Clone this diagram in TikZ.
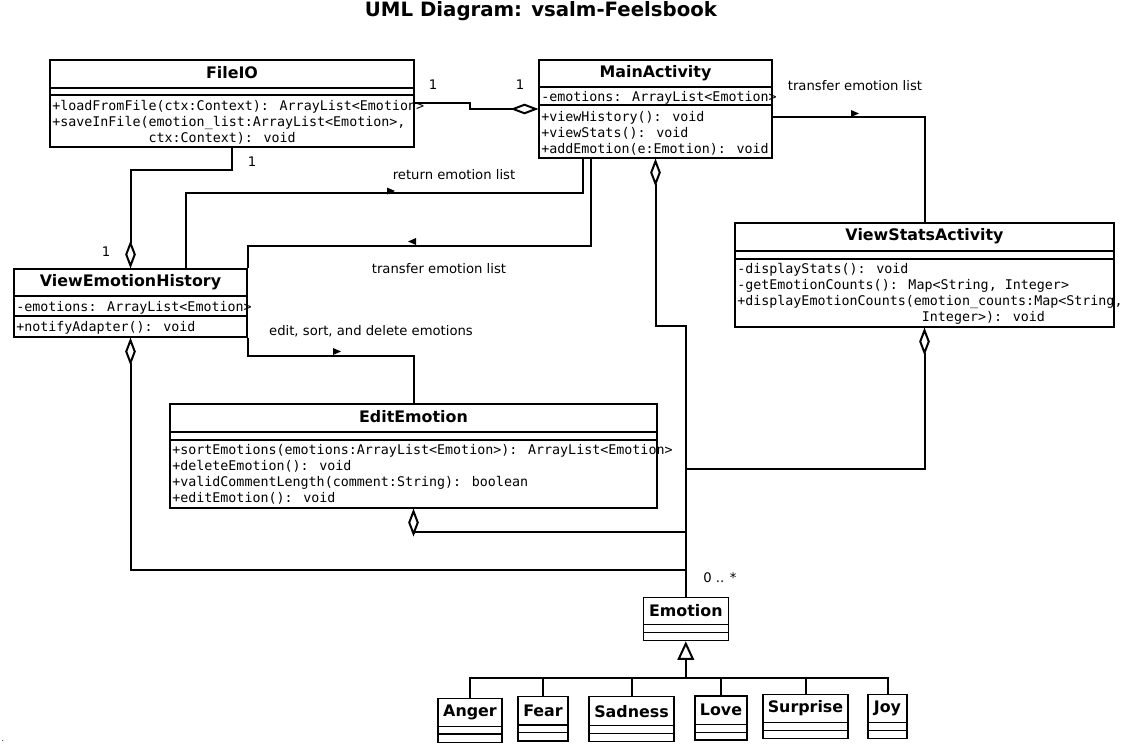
\documentclass[tikz,border=0pt]{standalone}
\usepackage{fontspec}
\setmainfont{DejaVu Sans}
\newfontfamily\monof{DejaVu Sans Mono}
\usetikzlibrary{arrows.meta,fit,calc}
\begin{document}
\begin{tikzpicture}[x=0.75pt,y=-0.75pt,
  cls/.style={draw, line width=0.8pt, inner sep=0pt, fit={#1}},
  sepline/.style={line width=0.8pt},
  ttl/.style={font=\bfseries\fontsize{11.9}{14}\selectfont, inner sep=0pt},
  mem/.style={font=\monof\fontsize{10}{12}\selectfont, anchor=west, inner sep=0pt, yshift=-1.3pt},
  lbl/.style={font=\fontsize{9.9}{12}\selectfont, inner sep=0pt},
  conn/.style={line width=1.5pt},
  agg/.style={conn, -{Diamond[open,length=21pt,width=8pt]}},
  gen/.style={conn, -{Triangle[open,length=14pt,width=12.5pt]}},
  dirarrow/.style={fill=black}
]
\useasboundingbox (0,0) rectangle (1143,749);

% title
\node[font=\bfseries\fontsize{14.8}{17}\selectfont, inner sep=0pt] (title) at (541,11) {UML Diagram: vsalm-Feelsbook};

% FileIO
\node[cls={(50,60)(414,147)}] (fileio) {};
\draw[sepline] (50,88) -- (414,88) (50,95) -- (414,95);
\node[ttl] (fileiot) at (232,73) {FileIO};
\node[mem] (f1) at (52,105) {+loadFromFile(ctx:Context): ArrayList<Emotion>};
\node[mem] (f2) at (52,121) {+saveInFile(emotion\_list:ArrayList<Emotion>,};
\node[mem] (f3) at (52,137) {\phantom{+saveInFile(}ctx:Context): void};

% MainActivity
\node[cls={(539,60)(772,158)}] (mainact) {};
\draw[sepline] (539,87) -- (772,87) (539,105) -- (772,105);
\node[ttl] (mainactt) at (655.5,73) {MainActivity};
\node[mem] (m0) at (541,96) {-emotions: ArrayList<Emotion>};
\node[mem] (m1) at (541,116) {+viewHistory(): void};
\node[mem] (m2) at (541,132) {+viewStats(): void};
\node[mem] (m3) at (541,148) {+addEmotion(e:Emotion): void};

% ViewStatsActivity
\node[cls={(735,223)(1114,327)}] (vstats) {};
\draw[sepline] (735,251) -- (1114,251) (735,259) -- (1114,259);
\node[ttl] (vstatst) at (924.5,236) {ViewStatsActivity};
\node[mem] (s1) at (737,268) {-displayStats(): void};
\node[mem] (s2) at (737,284) {-getEmotionCounts(): Map<String, Integer>};
\node[mem] (s3) at (737,300) {+displayEmotionCounts(emotion\_counts:Map<String,};
\node[mem] (s4) at (737,316) {\phantom{+displayEmotionCounts(e}Integer>): void};

% ViewEmotionHistory
\node[cls={(14,269)(247,337)}] (veh) {};
\draw[sepline] (14,296) -- (247,296) (14,316) -- (247,316);
\node[ttl] (veht) at (130.5,282) {ViewEmotionHistory};
\node[mem] (v1) at (16,306) {-emotions: ArrayList<Emotion>};
\node[mem] (v2) at (16,326) {+notifyAdapter(): void};

% EditEmotion
\node[cls={(170,404)(657,508)}] (edit) {};
\draw[sepline] (170,432) -- (657,432) (170,440) -- (657,440);
\node[ttl] (editt) at (413.5,417) {EditEmotion};
\node[mem] (e1) at (172,449) {+sortEmotions(emotions:ArrayList<Emotion>): ArrayList<Emotion>};
\node[mem] (e2) at (172,465) {+deleteEmotion(): void};
\node[mem] (e3) at (172,481) {+validCommentLength(comment:String): boolean};
\node[mem] (e4) at (172,497) {+editEmotion(): void};

% Emotion
\node[cls={(643.3,597.3)(728.3,640.7)}] (emotion) {};
\draw[sepline] (643.3,624.3) -- (728.3,624.3) (643.3,632.3) -- (728.3,632.3);
\node[ttl] (emotiont) at (685.8,610.5) {Emotion};

% subclasses
\node[cls={(438,698.3)(502,742.3)}] (anger) {};
\draw[sepline] (438,726.7) -- (502,726.7) (438,734) -- (502,734);
\node[ttl] (angert) at (470,712.5) {Anger};

\node[cls={(518,696.7)(568,741)}] (fear) {};
\draw[sepline] (518,725) -- (568,725) (518,732.3) -- (568,732.3);
\node[ttl] (feart) at (543,711) {Fear};

\node[cls={(589,696.7)(674,741.7)}] (sadness) {};
\draw[sepline] (589,725.7) -- (674,725.7) (589,733.3) -- (674,733.3);
\node[ttl] (sadnesst) at (631.5,711.2) {Sadness};

\node[cls={(695,696)(747,740)}] (love) {};
\draw[sepline] (695,724.3) -- (747,724.3) (695,732.3) -- (747,732.3);
\node[ttl] (lovet) at (721,710.2) {Love};

\node[cls={(763,694.3)(848,738.3)}] (surprise) {};
\draw[sepline] (763,722.7) -- (848,722.7) (763,730.7) -- (848,730.7);
\node[ttl] (surpriset) at (805.5,708.5) {Surprise};

\node[cls={(868,694.3)(907,738.3)}] (joy) {};
\draw[sepline] (868,722.7) -- (907,722.7) (868,730.7) -- (907,730.7);
\node[ttl] (joyt) at (887.5,708.5) {Joy};

% generalization
\coordinate (genj) at ($(emotion.south)+(0,36.6)$);
\draw[gen] (genj) -- (emotion.south);
\foreach \c in {anger,fear,sadness,love,surprise,joy}
  \draw[conn] (\c.north) |- (genj);

% FileIO -- MainActivity
\draw[agg] (fileio.east) -- ++(55,0) |- (mainact.west);
\node[lbl] (l1a) at (433,85) {1};
\node[lbl] (l1b) at (520,85) {1};

% FileIO -- ViewEmotionHistory
\draw[agg] (fileio.south) -- ++(0,22) -| (veh.north);
\node[lbl] (l2a) at (252,162) {1};
\node[lbl] (l2b) at (106,252) {1};

% return emotion list
\draw[conn] ([xshift=41.6pt]veh.north) -- ++(0,-75) -| ([xshift=-54.4pt]mainact.south);
\fill[dirarrow] (387,187.5) -- (395,191) -- (387,194.5) -- cycle;
\node[lbl] (lret) at (454,175) {return emotion list};

% transfer emotion list (to history)
\draw[conn] ([xshift=-48.4pt]mainact.south) -- ++(0,87) -| (veh.north east);
\fill[dirarrow] (416,238) -- (408,241.5) -- (416,245) -- cycle;
\node[lbl] (ltr1) at (439,269) {transfer emotion list};

% edit, sort, and delete emotions
\draw[conn] (veh.south east) -- ++(0,18) -| (edit.north);
\fill[dirarrow] (333,348) -- (341,351.5) -- (333,355) -- cycle;
\node[lbl] (ledit) at (371,331) {edit, sort, and delete emotions};

% transfer emotion list (to stats)
\draw[conn] ([yshift=-6pt]mainact.east) -| (vstats.north);
\fill[dirarrow] (851,110) -- (859,113.5) -- (851,117) -- cycle;
\node[lbl] (ltr2) at (855,86) {transfer emotion list};

% aggregations to Emotion
\draw[agg] (emotion.north) -- ++(0,-271) -| (mainact.south);
\draw[agg] (emotion.north) -- ++(0,-128) -| (vstats.south);
\draw[agg] (emotion.north) -- ++(0,-65) -| (edit.south);
\draw[agg] (emotion.north) -- ++(0,-27) -| (veh.south);
\node[lbl] (lmany) at (720,578) {0 .. *};

\node[font=\fontsize{6}{7}\selectfont, inner sep=0pt] (dot) at (3,741) {.};
\end{tikzpicture}
\end{document}
